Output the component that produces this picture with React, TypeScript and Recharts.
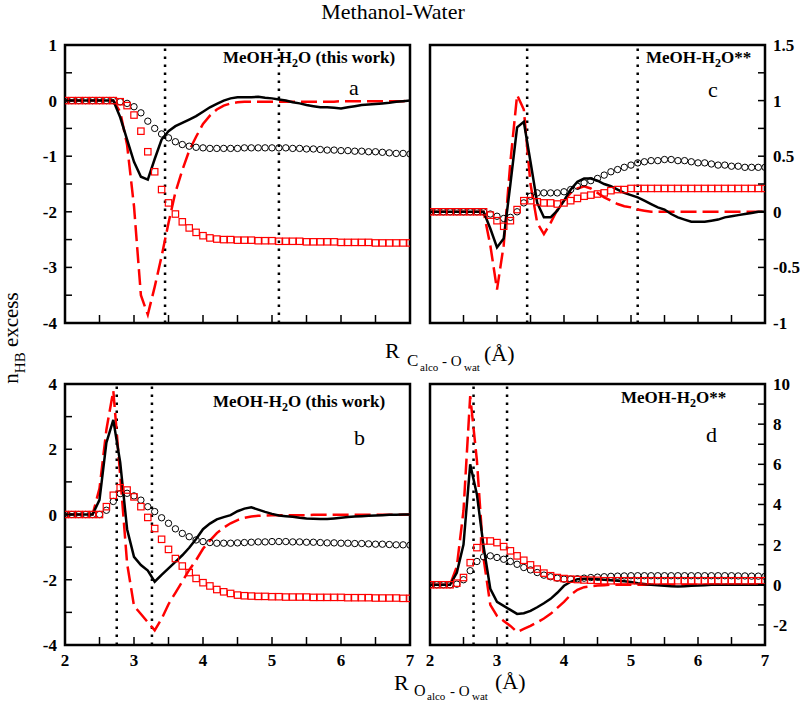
import React from 'react'
import { ComposedChart, Line, Scatter, XAxis, YAxis, ReferenceLine, ReferenceArea } from 'recharts'

// distance grid (Å)
const R = [
  2.0, 2.1, 2.2, 2.3, 2.4, 2.5, 2.6, 2.7, 2.8, 2.9,
  3.0, 3.1, 3.2, 3.3, 3.4, 3.5, 3.6, 3.7, 3.8, 3.9,
  4.0, 4.1, 4.2, 4.3, 4.4, 4.5, 4.6, 4.7, 4.8, 4.9,
  5.0, 5.1, 5.2, 5.3, 5.4, 5.5, 5.6, 5.7, 5.8, 5.9,
  6.0, 6.1, 6.2, 6.3, 6.4, 6.5, 6.6, 6.7, 6.8, 6.9,
  7.0,
]

// panel a : C_alco - O_wat, this work
const A_LINE = [
  0, 0, 0, 0, 0, 0, 0, 0, -0.3, -0.7,
  -1.1, -1.37, -1.42, -1.05, -0.7, -0.55, -0.46, -0.4, -0.34, -0.28,
  -0.2, -0.12, -0.06, 0, 0.04, 0.06, 0.06, 0.06, 0.07, 0.05,
  0.04, 0.02, 0, -0.03, -0.05, -0.08, -0.1, -0.12, -0.12, -0.13,
  -0.14, -0.12, -0.1, -0.08, -0.07, -0.06, -0.05, -0.04, -0.02, -0.01,
  0,
]
const A_DASH = [
  0, 0, 0, 0, 0, 0, 0, 0, -0.2, -0.8,
  -1.9, -3.5, -3.85, -3.35, -2.8, -2.2, -1.65, -1.25, -0.9, -0.65,
  -0.42, -0.27, -0.16, -0.09, -0.05, -0.03, -0.02, -0.02, -0.02, -0.02,
  -0.02, -0.02, -0.02, -0.02, -0.02, -0.02, -0.02, -0.02, -0.02, -0.02,
  -0.01, -0.01, -0.01, -0.01, -0.01, -0.01, -0.01, -0.01, -0.01, -0.01,
  0,
]
const A_CIRC = [
  0, 0, 0, 0, 0, 0, 0, 0, -0.02, -0.05,
  -0.11, -0.22, -0.37, -0.5, -0.6, -0.67, -0.74, -0.79, -0.82, -0.84,
  -0.85, -0.86, -0.86, -0.86, -0.86, -0.86, -0.85, -0.85, -0.85, -0.85,
  -0.85, -0.85, -0.85, -0.86, -0.86, -0.87, -0.87, -0.88, -0.89, -0.89,
  -0.9, -0.9, -0.91, -0.91, -0.92, -0.92, -0.93, -0.94, -0.95, -0.95,
  -0.96,
]
const A_SQ = [
  0, 0, 0, 0, 0, 0, 0, 0, -0.02, -0.09,
  -0.26, -0.55, -0.92, -1.28, -1.6, -1.84, -2.04, -2.18, -2.29, -2.37,
  -2.43, -2.47, -2.49, -2.5, -2.5, -2.51, -2.51, -2.51, -2.52, -2.52,
  -2.52, -2.53, -2.53, -2.53, -2.53, -2.54, -2.54, -2.54, -2.54, -2.54,
  -2.55, -2.55, -2.55, -2.55, -2.55, -2.56, -2.56, -2.56, -2.56, -2.56,
  -2.56,
]

// panel c : C_alco - O_wat, MeOH-H2O**
const C_LINE = [
  0, 0, 0, 0, 0, 0, 0, 0, 0, -0.15,
  -0.32, -0.24, 0.25, 0.76, 0.81, 0.45, 0.08, -0.05, -0.05, 0.01,
  0.1, 0.2, 0.27, 0.3, 0.3, 0.28, 0.25, 0.23, 0.2, 0.17,
  0.15, 0.13, 0.1, 0.07, 0.04, 0.02, -0.02, -0.05, -0.07, -0.09,
  -0.09, -0.09, -0.08, -0.07, -0.05, -0.04, -0.03, -0.02, -0.01, 0,
  0,
]
const C_DASH = [
  0, 0, 0, 0, 0, 0, 0, 0, 0, -0.3,
  -0.7, -0.3, 0.45, 1.05, 0.92, 0.25, -0.1, -0.2, -0.1, 0.02,
  0.1, 0.17, 0.21, 0.23, 0.21, 0.17, 0.13, 0.1, 0.07, 0.05,
  0.04, 0.02, 0.01, 0, 0, 0, 0, 0, 0, 0,
  0, 0, 0, 0, 0, 0, 0, 0, 0, 0,
  0,
]
const C_CIRC = [
  0, 0, 0, 0, 0, 0, 0, 0, 0, -0.02,
  -0.04, -0.06, -0.05, 0, 0.08, 0.14, 0.17, 0.17, 0.17, 0.17,
  0.18, 0.2, 0.23, 0.26, 0.28, 0.3, 0.33, 0.36, 0.38, 0.4,
  0.42, 0.44, 0.45, 0.46, 0.46, 0.47, 0.47, 0.46, 0.46, 0.45,
  0.44, 0.44, 0.43, 0.42, 0.42, 0.41, 0.41, 0.4, 0.4, 0.4,
  0.4,
]
const C_SQ = [
  0, 0, 0, 0, 0, 0, 0, 0, 0, -0.03,
  -0.08, -0.13, -0.08, 0.02, 0.1, 0.1, 0.09, 0.08, 0.08, 0.07,
  0.08, 0.1, 0.12, 0.14, 0.15, 0.16, 0.17, 0.19, 0.2, 0.2,
  0.21, 0.21, 0.21, 0.21, 0.21, 0.21, 0.21, 0.21, 0.21, 0.21,
  0.21, 0.21, 0.21, 0.21, 0.21, 0.21, 0.21, 0.21, 0.21, 0.21,
  0.21,
]

// panel b : O_alco - O_wat, this work
const B_LINE = [
  0, 0, 0, 0, 0, 0.45, 2.2, 2.9, 1.6, -0.45,
  -1.3, -1.55, -1.72, -2.06, -1.85, -1.65, -1.45, -1.25, -1.02, -0.75,
  -0.45, -0.28, -0.15, -0.08, -0.02, 0.1, 0.18, 0.22, 0.15, 0.08,
  0.02, -0.03, -0.05, -0.07, -0.1, -0.12, -0.13, -0.14, -0.14, -0.12,
  -0.1, -0.08, -0.06, -0.05, -0.04, -0.03, -0.02, -0.01, -0.01, 0,
  0,
]
const B_DASH = [
  0, 0, 0, 0, 0, 0.8, 2.6, 3.8, 1.2, -1.5,
  -2.8, -3.05, -3.3, -3.55, -3.2, -2.75, -2.4, -2.05, -1.7, -1.4,
  -1.05, -0.8, -0.57, -0.4, -0.27, -0.17, -0.1, -0.06, -0.04, -0.03,
  -0.02, -0.02, -0.02, -0.02, -0.02, -0.02, -0.01, -0.01, -0.01, -0.01,
  -0.01, -0.01, -0.01, -0.01, -0.01, -0.01, -0.01, -0.01, -0.01, -0.01,
  0,
]
const B_CIRC = [
  0, 0, 0, 0, 0, 0, 0.13, 0.4, 0.64, 0.65,
  0.57, 0.44, 0.24, 0.09, -0.1, -0.27, -0.44, -0.58, -0.68, -0.78,
  -0.83, -0.86, -0.88, -0.88, -0.88, -0.87, -0.86, -0.85, -0.84, -0.84,
  -0.83, -0.83, -0.83, -0.84, -0.84, -0.85, -0.85, -0.86, -0.87, -0.87,
  -0.88, -0.88, -0.89, -0.89, -0.9, -0.91, -0.91, -0.92, -0.93, -0.93,
  -0.94,
]
const B_SQ = [
  0, 0, 0, 0, 0, 0, 0.24, 0.59, 0.82, 0.75,
  0.54, 0.24, -0.09, -0.43, -0.76, -1.07, -1.35, -1.58, -1.78, -1.96,
  -2.09, -2.19, -2.3, -2.37, -2.42, -2.47, -2.49, -2.5, -2.51, -2.51,
  -2.52, -2.52, -2.53, -2.53, -2.53, -2.53, -2.54, -2.54, -2.54, -2.54,
  -2.54, -2.55, -2.55, -2.55, -2.55, -2.56, -2.56, -2.56, -2.56, -2.57,
  -2.57,
]

// panel d : O_alco - O_wat, MeOH-H2O**
const D_LINE = [
  0, 0, 0, 0, 0.6, 2.0, 6.0, 4.5, 1.9, -0.2,
  -0.85, -1.05, -1.25, -1.45, -1.42, -1.3, -1.12, -0.92, -0.7, -0.4,
  -0.05, 0.15, 0.28, 0.3, 0.3, 0.28, 0.25, 0.22, 0.2, 0.17,
  0.14, 0.08, 0.04, 0, -0.03, -0.05, -0.07, -0.08, -0.07, -0.05,
  -0.04, -0.02, 0, 0, 0, 0, 0, 0, 0, 0,
  0,
]
const D_DASH = [
  0, 0, 0, 0, 0.9, 3.7, 9.4, 6.2, 1.3, -1.0,
  -1.55, -1.8, -2.05, -2.35, -2.2, -2.05, -1.87, -1.68, -1.45, -1.15,
  -0.85, -0.5, -0.25, -0.12, -0.07, -0.04, -0.02, 0, 0, 0,
  0, 0, 0, 0, 0, 0, 0, 0, 0, 0,
  0, 0, 0, 0, 0, 0, 0, 0, 0, 0,
  0,
]
const D_CIRC = [
  0, 0, 0, 0, 0.03, 0.25, 0.7, 1.16, 1.39, 1.44,
  1.36, 1.27, 1.16, 1.02, 0.86, 0.74, 0.61, 0.48, 0.4, 0.33,
  0.28, 0.28, 0.3, 0.33, 0.36, 0.38, 0.4, 0.42, 0.43, 0.44,
  0.45, 0.45, 0.45, 0.45, 0.45, 0.45, 0.45, 0.45, 0.45, 0.45,
  0.45, 0.45, 0.45, 0.45, 0.45, 0.45, 0.44, 0.44, 0.43, 0.43,
  0.42,
]
const D_SQ = [
  0, 0, 0, 0, 0.08, 0.36, 1.1, 1.85, 2.18, 2.18,
  2.1, 1.9, 1.69, 1.44, 1.22, 0.99, 0.78, 0.58, 0.45, 0.36,
  0.31, 0.28, 0.26, 0.24, 0.23, 0.22, 0.2, 0.2, 0.2, 0.2,
  0.2, 0.2, 0.2, 0.2, 0.2, 0.2, 0.2, 0.2, 0.2, 0.2,
  0.2, 0.2, 0.2, 0.2, 0.2, 0.2, 0.2, 0.2, 0.2, 0.2,
  0.2,
]

// ticks
const X_TICKS = [2, 2.5, 3, 3.5, 4, 4.5, 5, 5.5, 6, 6.5, 7]
const X_LABELED = [2, 3, 4, 5, 6, 7]
const A_Y_TICKS = [-4, -3.5, -3, -2.5, -2, -1.5, -1, -0.5, 0, 0.5, 1]
const A_Y_LABELED = [-4, -3, -2, -1, 0, 1]
const C_Y_TICKS = [-1, -0.75, -0.5, -0.25, 0, 0.25, 0.5, 0.75, 1, 1.25, 1.5]
const C_Y_LABELED = [-1, -0.5, 0, 0.5, 1, 1.5]
const B_Y_TICKS = [-4, -3, -2, -1, 0, 1, 2, 3, 4]
const B_Y_LABELED = [-4, -2, 0, 2, 4]
const D_Y_TICKS = [-2, -1, 0, 1, 2, 3, 4, 5, 6, 7, 8, 9, 10]
const D_Y_LABELED = [-2, 0, 2, 4, 6, 8, 10]

// vertical markers
const A_VLINES = [3.45, 5.1]
const C_VLINES = [3.45, 5.1]
const B_VLINES = [2.75, 3.26]
const D_VLINES = [2.65, 3.15]

const FONT = '"Liberation Serif", "Times New Roman", "DejaVu Serif", serif'
const RED = '#ff0000'
const W = 800
const H = 703

function rows(line: number[], dash: number[], circ: number[], sq: number[]) {
  return R.map((x, i) => ({ x, line: line[i], dash: dash[i], circ: circ[i], sq: sq[i] }))
}

const tickStyle = { fontFamily: FONT, fontWeight: 700, fontSize: 17, fill: '#000' }

interface PanelProps {
  box: [number, number, number, number] // left, top, right, bottom of plot
  side: 'left' | 'right'
  yDomain: [number, number]
  yTicks: number[]
  yLabeled: number[]
  xLabels: boolean
  vlines: number[]
  data: ReturnType<typeof rows>
}

function Panel({ box, side, yDomain, yTicks, yLabeled, xLabels, vlines, data }: PanelProps) {
  const [left, top, right, bottom] = box
  const axisW = 30
  const axisH = 30
  const margin = side === 'left'
    ? { left: left - axisW, right: W - right, top, bottom: H - bottom - axisH }
    : { left, right: W - right - axisW, top, bottom: H - bottom - axisH }

  // eslint-disable-next-line @typescript-eslint/no-explicit-any
  const xTick = (p: any) => {
    const v = p.payload.value
    return (
      <g>
        <line x1={p.x} x2={p.x} y1={p.y} y2={p.y - 8} stroke="#000" strokeWidth={1.5} />
        {xLabels && X_LABELED.includes(v) && (
          <text x={p.x} y={p.y + 21} textAnchor="middle" style={tickStyle}>{v}</text>
        )}
      </g>
    )
  }
  // eslint-disable-next-line @typescript-eslint/no-explicit-any
  const yTick = (p: any) => {
    const v = p.payload.value
    const dir = side === 'left' ? 1 : -1
    return (
      <g>
        <line x1={p.x} x2={p.x + dir * 7} y1={p.y} y2={p.y} stroke="#000" strokeWidth={1.5} />
        {yLabeled.includes(v) && (
          <text x={p.x - dir * 8} y={p.y + 6} textAnchor={side === 'left' ? 'end' : 'start'} style={tickStyle}>{v}</text>
        )}
      </g>
    )
  }

  return (
    <div style={{ position: 'absolute', left: 0, top: 0 }}>
      <ComposedChart width={W} height={H} data={data} margin={margin}>
        <XAxis
          dataKey="x" type="number" domain={[2, 7]} ticks={X_TICKS} interval={0}
          axisLine={false} tickLine={false} tickSize={0} tickMargin={0} height={axisH}
          tick={xTick} allowDataOverflow
        />
        <YAxis
          type="number" domain={yDomain} ticks={yTicks} interval={0} orientation={side}
          axisLine={false} tickLine={false} tickSize={0} tickMargin={0} width={axisW}
          tick={yTick} allowDataOverflow
        />
        {vlines.map(v => (
          <ReferenceLine key={v} x={v} stroke="#000" strokeWidth={2.5} strokeDasharray="2.5 5.5" />
        ))}
        <Scatter dataKey="circ" isAnimationActive={false}
          // eslint-disable-next-line @typescript-eslint/no-explicit-any
          shape={(p: any) => <circle cx={p.cx} cy={p.cy} r={3.2} fill="none" stroke="#000" strokeWidth={1} />} />
        <Scatter dataKey="sq" isAnimationActive={false}
          // eslint-disable-next-line @typescript-eslint/no-explicit-any
          shape={(p: any) => <rect x={p.cx - 3.2} y={p.cy - 3.2} width={6.4} height={6.4} fill="none" stroke={RED} strokeWidth={1.2} />} />
        <Line dataKey="dash" type="linear" stroke={RED} strokeWidth={2.5} strokeDasharray="16 6" dot={false} isAnimationActive={false} />
        <Line dataKey="line" type="linear" stroke="#000" strokeWidth={2.5} dot={false} isAnimationActive={false} />
        <ReferenceArea x1={2} x2={7} y1={yDomain[0]} y2={yDomain[1]} fill="none" stroke="#000" strokeWidth={2.5} ifOverflow="visible" />
      </ComposedChart>
    </div>
  )
}

const txt = (size: number, bold = false) => ({ fontFamily: FONT, fontSize: size, fontWeight: bold ? 700 : 400, fill: '#000' })

function PanelTag({ x, y, suffix }: { x: number; y: number; suffix: string }) {
  return (
    <text x={x} y={y} style={txt(17, true)}>
      MeOH-H<tspan style={{ fontSize: 12 }} dy={4}>2</tspan><tspan dy={-4}>{suffix}</tspan>
    </text>
  )
}

export default function App() {
  return (
    <div style={{ position: 'absolute', left: 0, top: 0, width: W, height: H, background: '#fff' }}>
      <Panel box={[65, 45, 410, 323]} side="left" yDomain={[-4, 1]} yTicks={A_Y_TICKS} yLabeled={A_Y_LABELED}
        xLabels={false} vlines={A_VLINES} data={rows(A_LINE, A_DASH, A_CIRC, A_SQ)} />
      <Panel box={[430, 45, 765, 323]} side="right" yDomain={[-1, 1.5]} yTicks={C_Y_TICKS} yLabeled={C_Y_LABELED}
        xLabels={false} vlines={C_VLINES} data={rows(C_LINE, C_DASH, C_CIRC, C_SQ)} />
      <Panel box={[65, 384, 410, 645]} side="left" yDomain={[-4, 4]} yTicks={B_Y_TICKS} yLabeled={B_Y_LABELED}
        xLabels vlines={B_VLINES} data={rows(B_LINE, B_DASH, B_CIRC, B_SQ)} />
      <Panel box={[430, 384, 765, 645]} side="right" yDomain={[-3, 10]} yTicks={D_Y_TICKS} yLabeled={D_Y_LABELED}
        xLabels vlines={D_VLINES} data={rows(D_LINE, D_DASH, D_CIRC, D_SQ)} />

      <svg width={W} height={H} style={{ position: 'absolute', left: 0, top: 0, pointerEvents: 'none' }}>
        <text x={393} y={19} textAnchor="middle" style={txt(22)}>Methanol-Water</text>

        <text transform="translate(18,338) rotate(-90)" textAnchor="middle" style={txt(21)}>
          n<tspan style={{ fontSize: 15 }} dy={7}>HB</tspan><tspan dy={-7}> excess</tspan>
        </text>

        <text x={385} y={358} style={txt(22)}>R</text>
        <text x={407} y={366} style={txt(17)}>C</text>
        <text x={420} y={371} style={txt(11)}>alco</text>
        <text x={442} y={366} style={txt(15)}>- O</text>
        <text x={464} y={371} style={txt(11)}>wat</text>
        <text x={484} y={361} style={txt(22)}>(Å)</text>

        <text x={394} y={690} style={txt(22)}>R</text>
        <text x={414} y={696} style={txt(16)}>O</text>
        <text x={427} y={700} style={txt(11)}>alco</text>
        <text x={450} y={696} style={txt(15)}>- O</text>
        <text x={472} y={700} style={txt(11)}>wat</text>
        <text x={495} y={689} style={txt(22)}>(Å)</text>

        <PanelTag x={223} y={63} suffix="O (this work)" />
        <text x={349} y={95} style={txt(22)}>a</text>
        <PanelTag x={646} y={63} suffix="O**" />
        <text x={708} y={97} style={txt(22)}>c</text>
        <PanelTag x={213} y={407} suffix="O (this work)" />
        <text x={354} y={445} style={txt(22)}>b</text>
        <PanelTag x={621} y={403} suffix="O**" />
        <text x={706} y={442} style={txt(22)}>d</text>
      </svg>
    </div>
  )
}
